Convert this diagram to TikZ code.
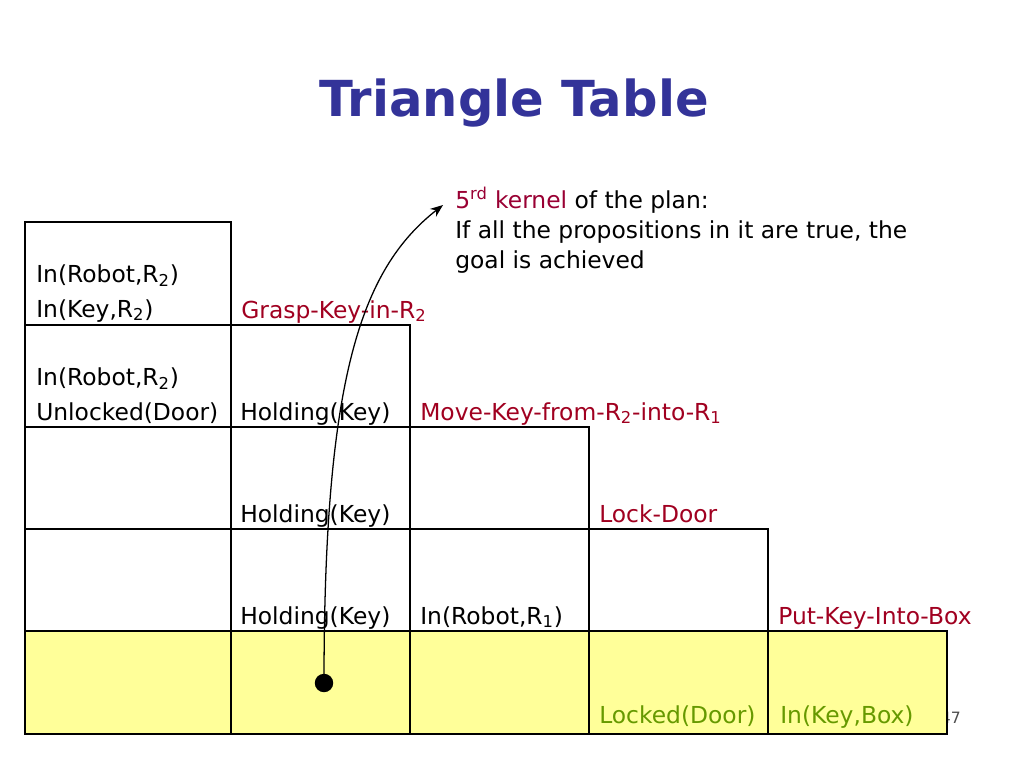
\documentclass[tikz,border=0pt]{standalone}
\usepackage{fontspec}
\setmainfont{DejaVu Sans}
\usepackage{xcolor}
\usepackage{tikz}
\usetikzlibrary{arrows.meta, positioning}
\definecolor{titleblue}{HTML}{333399}
\definecolor{opred}{HTML}{A00020}
\definecolor{kernred}{HTML}{990033}
\definecolor{goalgreen}{HTML}{669900}
\definecolor{goalfill}{HTML}{FFFF99}
\tikzstyle{cell} = [draw=black, line width=0.9pt]
\tikzstyle{goalcell} = [draw=black, line width=0.9pt, fill=goalfill]
\tikzstyle{prop} = [anchor=base west, inner sep=0pt, font=\fontsize{16.5}{20}\selectfont, align=left]
\tikzstyle{op} = [prop, text=opred]
\tikzstyle{goal} = [prop, text=goalgreen]
\tikzstyle{arrow} = [line width=0.9pt, -{Stealth[length=9pt, width=7pt]}]

\begin{document}
\begin{tikzpicture}[x=0.0248cm, y=-0.0248cm]
		\useasboundingbox (0,0) rectangle (1024,768);
		
		% Title
		\node (title) [anchor=base, inner sep=0pt, text=titleblue, font=\fontsize{35}{40}\selectfont\bfseries] at (514,117) {Triangle Table};
		
		% Page number
		\node (page) [anchor=base east, inner sep=0pt, text=black!70, font=\fontsize{11}{13}\selectfont] at (961,723) {47};
		
		% Table
		\draw [cell] (25,222) rectangle (231,325);
		\draw [cell] (25,325) rectangle (231,427);
		\draw [cell] (231,325) rectangle (410,427);
		\draw [cell] (25,427) rectangle (231,529);
		\foreach \x in {231,410} \draw [cell] (\x,427) rectangle ++(179,102);
		\draw [cell] (25,529) rectangle (231,631);
		\foreach \x in {231,410,589} \draw [cell] (\x,529) rectangle ++(179,102);
		\draw [goalcell] (25,631) rectangle (231,734);
		\foreach \x in {231,410,589,768} \draw [goalcell] (\x,631) rectangle ++(179,103);
		
		% Nodes
		\node (pre1) [prop] at (36,317) {In(Robot,R\textsubscript{2})\\[4pt]In(Key,R\textsubscript{2})};
		\node (grasp) [op] at (241,318) {Grasp-Key-in-R\textsubscript{2}};
		\node (pre2) [prop] at (36,420) {In(Robot,R\textsubscript{2})\\[4pt]Unlocked(Door)};
		\node (hold2) [prop] at (240,420) {Holding(Key)};
		\node (move) [op] at (420,420) {Move-Key-from-R\textsubscript{2}-into-R\textsubscript{1}};
		\node (hold3) [prop] at (240,522) {Holding(Key)};
		\node (lock) [op] at (599,522) {Lock-Door};
		\node (hold4) [prop] at (240,624) {Holding(Key)};
		\node (robot1) [prop] at (420,624) {In(Robot,R\textsubscript{1})};
		\node (put) [op] at (778,624) {Put-Key-Into-Box};
		\node (locked) [goal] at (599,723) {Locked(Door)};
		\node (inbox) [goal] at (780,723) {In(Key,Box)};
		\node (kernel) [prop] at (455,268) {\textcolor{kernred}{5\textsuperscript{rd} kernel} of the plan:\\[1pt]If all the propositions in it are true, the\\[1pt]goal is achieved};
		\node (dot) [circle, fill=black, inner sep=0pt, minimum size=13pt] at (324,683) {};
		\coordinate (kerneltip) at (443,205);
		
		% Arrows
		\draw [arrow] (dot.center) .. controls (324,380) and (360,270) .. (kerneltip);
		
	\end{tikzpicture}
\end{document}
